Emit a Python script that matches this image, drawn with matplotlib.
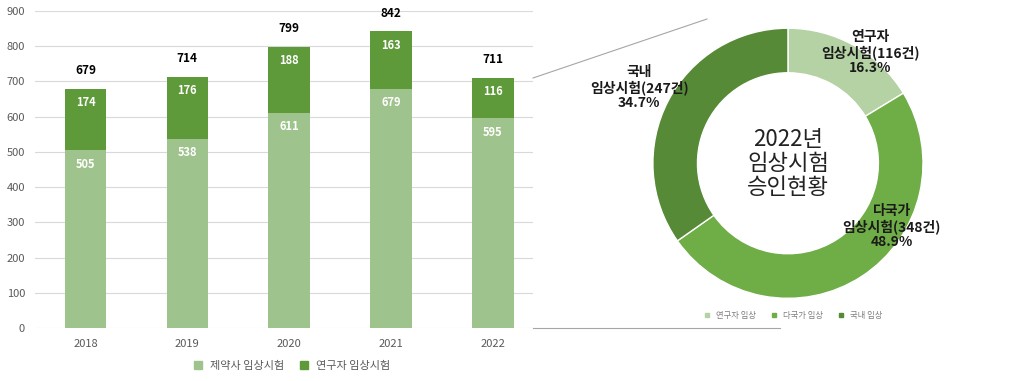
import numpy as np
import matplotlib.pyplot as plt
from matplotlib.lines import Line2D

plt.rcParams['font.family'] = ['Noto Sans CJK KR', 'DejaVu Sans']

# 막대 데이터
years = ['2018', '2019', '2020', '2021', '2022']
pharma = [505, 538, 611, 679, 595]
researcher = [174, 176, 188, 163, 116]
totals = [679, 714, 799, 842, 711]
bar_names = ['제약사 임상시험', '연구자 임상시험']

# 도넛 데이터
donut_names = ['연구자 임상', '다국가 임상', '국내 임상']
donut_counts = [116, 348, 247]
donut_pct = [16.3, 48.9, 34.7]
donut_labels = ['연구자\n임상시험(116건)\n16.3%',
                '다국가\n임상시험(348건)\n48.9%',
                '국내\n임상시험(247건)\n34.7%']

c_light = '#9FC38D'
c_dark = '#5E9A3A'
d_colors = ['#B4D2A4', '#6FAD46', '#568A36']

fig = plt.figure(figsize=(10.2, 3.81), dpi=100)

# 막대그래프
ax = fig.add_axes([0.034, 0.139, 0.489, 0.832])
x = np.arange(len(years))
ax.bar(x, pharma, width=0.41, color=c_light, zorder=2)
ax.bar(x, researcher, width=0.41, bottom=pharma, color=c_dark, zorder=2)
for i in range(len(years)):
    ax.annotate(str(pharma[i]), (x[i], pharma[i]), xytext=(0, -10), textcoords='offset points',
                ha='center', va='center', color='white', fontsize=8, fontweight='bold')
    ax.annotate(str(researcher[i]), (x[i], totals[i]), xytext=(0, -10), textcoords='offset points',
                ha='center', va='center', color='white', fontsize=8, fontweight='bold')
    ax.annotate(str(totals[i]), (x[i], totals[i]), xytext=(0, 13), textcoords='offset points',
                ha='center', va='center', color='black', fontsize=8.5, fontweight='bold')
ax.set_xlim(-0.5, 4.4)
ax.set_ylim(0, 900)
ax.set_yticks(range(0, 901, 100))
ax.set_xticks(x)
ax.set_xticklabels(years)
ax.yaxis.grid(True, color='#D9D9D9', linewidth=0.8, zorder=0)
for s in ax.spines.values():
    s.set_visible(False)
ax.tick_params(length=0, colors='#595959', labelsize=8)
ax.tick_params(axis='y', pad=7)
ax.tick_params(axis='x', pad=8)

handles = [Line2D([], [], marker='s', linestyle='', color=c, markersize=6) for c in [c_light, c_dark]]
fig.legend(handles, bar_names, loc='center', bbox_to_anchor=(0.283, 0.04), ncol=2,
           frameon=False, fontsize=8, handletextpad=0.1, columnspacing=0.8,
           labelcolor='#595959')

# 도넛그래프
ax2 = fig.add_axes([0.607, 0.128, 0.331, 0.887])
ax2.pie(donut_counts, colors=d_colors, startangle=90, counterclock=False,
        wedgeprops=dict(width=0.33, edgecolor='white', linewidth=1))
ax2.set_aspect('equal')
ax2.text(0, 0, '2022년\n임상시험\n승인현황', ha='center', va='center', fontsize=16,
         linespacing=1.05, color='#222222')

label_pos = [(0.61, 0.82), (0.77, -0.47), (-1.10, 0.56)]
for lab, (lx, ly) in zip(donut_labels, label_pos):
    ax2.text(lx, ly, lab, ha='center', va='center', fontsize=10, fontweight='bold',
             linespacing=1.1, color='#1a1a1a')

handles2 = [Line2D([], [], marker='s', linestyle='', color=c, markersize=3.5) for c in d_colors]
fig.legend(handles2, donut_names, loc='center', bbox_to_anchor=(0.775, 0.173), ncol=3,
           frameon=False, fontsize=6, handletextpad=0.05, columnspacing=1.2,
           labelcolor='#7f7f7f')

# 연결선
fig.add_artist(Line2D([533 / 1020, 707 / 1020], [1 - 78 / 381, 1 - 19 / 381],
                      color='#A6A6A6', linewidth=0.8))
fig.add_artist(Line2D([533 / 1020, 780 / 1020], [1 - 328 / 381, 1 - 328 / 381],
                      color='#A6A6A6', linewidth=0.8))

fig.savefig('out.png', dpi=100)
